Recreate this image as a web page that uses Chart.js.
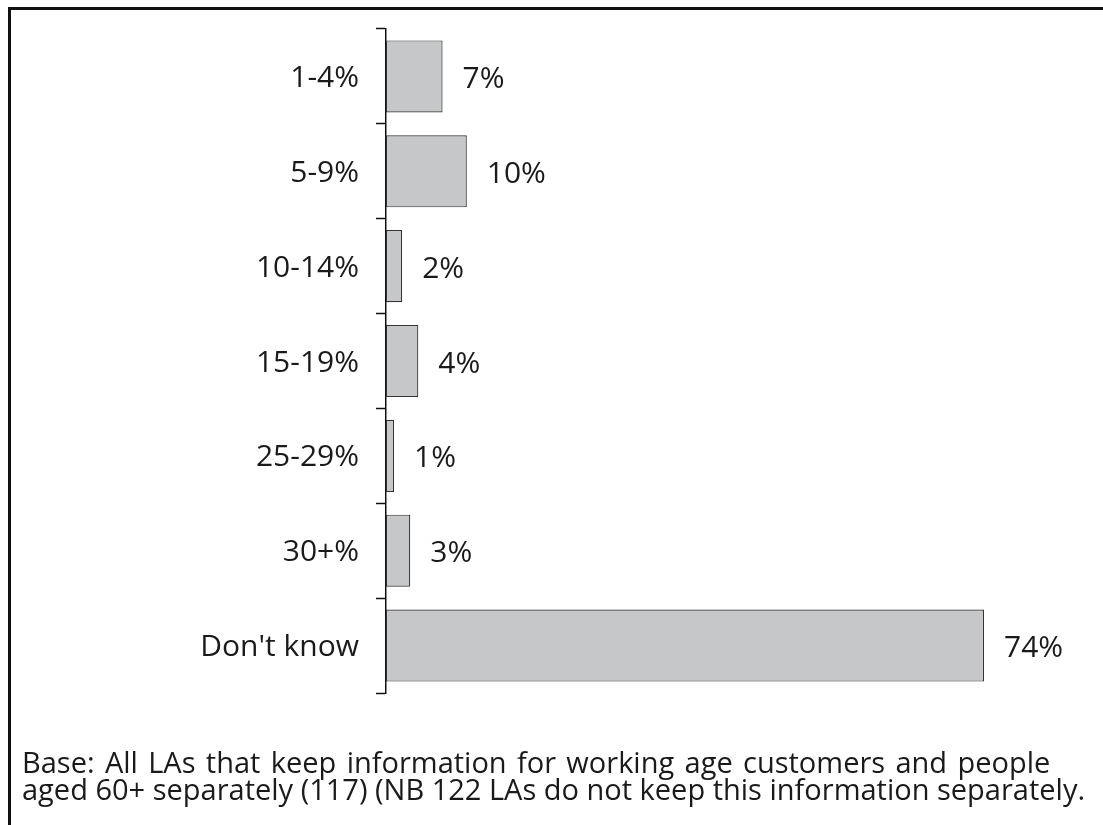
<!DOCTYPE html>
<html>
<head>
<meta charset="utf-8">
<script src="https://cdn.jsdelivr.net/npm/chart.js@4.4.1/dist/chart.umd.min.js"></script>
<style>
    body { margin: 0; background: #fff; }
    .wrap { position: relative; width: 1103px; height: 825px; overflow: hidden; }
    .frame {
        position: absolute; left: 8px; top: 7px; right: -10px; bottom: -10px;
        border-top: 3px solid #111; border-left: 3px solid #111;
    }
    .note {
        position: absolute; left: 22px; top: 748px;
        font-family: 'Open Sans', sans-serif; font-size: 29px; line-height: 27px;
        color: #1a1a1a; white-space: nowrap;
    }
    .note div:first-child { word-spacing: 2.8px; }
    canvas { position: absolute; left: 0; top: 0; }
</style>
</head>
<body>
<div class="wrap">
    <div class="frame"></div>
    <canvas id="barChart" width="1103" height="825"></canvas>
    <div class="note" id="note"></div>
</div>
<script>
const categories = ['1-4%', '5-9%', '10-14%', '15-19%', '25-29%', '30+%', "Don't know"];
const shares = [7, 10, 2, 4, 1, 3, 74];
const noteLines = [
    'Base: All LAs that keep information for working age customers and people',
    'aged 60+ separately (117) (NB 122 LAs do not keep this information separately.'
];

const note = document.getElementById('note');
noteLines.forEach(line => {
    const row = document.createElement('div');
    row.textContent = line;
    note.appendChild(row);
});

Chart.defaults.font.family = "'Open Sans', sans-serif";
Chart.defaults.color = '#1a1a1a';

// percentage written to the right of each bar
const valueLabels = {
    id: 'valueLabels',
    afterDatasetsDraw(chart) {
        const ctx = chart.ctx;
        const meta = chart.getDatasetMeta(0);
        ctx.save();
        ctx.font = "30px 'Open Sans', sans-serif";
        ctx.fillStyle = '#1a1a1a';
        ctx.textBaseline = 'middle';
        ctx.textAlign = 'left';
        meta.data.forEach((bar, i) => {
            ctx.fillText(shares[i] + '%', bar.x + 20, bar.y + 3);
        });
        ctx.restore();
    }
};

new Chart(document.getElementById('barChart'), {
    type: 'bar',
    data: {
        labels: categories,
        datasets: [{
            data: shares,
            backgroundColor: '#c6c7c9',
            borderColor: '#333333',
            borderWidth: 1.2,
            borderSkipped: false,
            barPercentage: 0.76,
            categoryPercentage: 1
        }]
    },
    options: {
        indexAxis: 'y',
        responsive: false,
        animation: false,
        layout: { padding: { top: 29, bottom: 132, right: 70.5, left: 0 } },
        plugins: { legend: { display: false }, tooltip: { enabled: false } },
        scales: {
            x: { display: false, min: 0, max: 80 },
            y: {
                offset: true,
                afterFit(scale) {
                    // fixed axis width, and no extra room above/below for the labels
                    scale.width = 386;
                    scale.paddingTop = 0;
                    scale.paddingBottom = 0;
                },
                border: { color: '#111', width: 1.5 },
                grid: {
                    offset: true,
                    drawOnChartArea: false,
                    tickLength: 10,
                    tickColor: '#111',
                    tickWidth: 1.5
                },
                ticks: {
                    padding: 17,
                    labelOffset: 2,
                    font: { size: 30 },
                    color: '#1a1a1a'
                }
            }
        }
    },
    plugins: [valueLabels]
});
</script>
</body>
</html>
